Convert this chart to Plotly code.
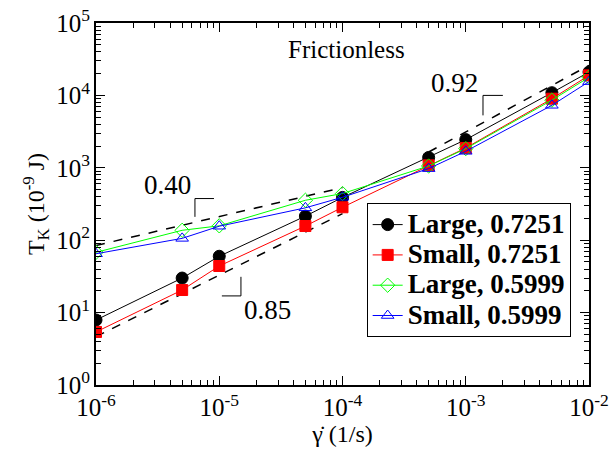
import numpy as np
import plotly.graph_objects as go

# Shear rate (1/s) and kinetic energy T_K (1e-9 J)
shear_rate = [1e-6, 5e-6, 1e-5, 5e-5, 1e-4, 5e-4, 1e-3, 5e-3, 1e-2]
large_7251 = [7.9, 30, 60, 215, 390, 1390, 2450, 10900, 21000]
small_7251 = [5.4, 20.5, 44, 157, 285, 1080, 1880, 9000, 18900]
large_5999 = [68, 137, 158, 356, 441, 1060, 1840, 8600, 17800]
small_5999 = [65, 106, 156, 280, 392, 975, 1690, 7300, 15500]

# Power-law guide lines: slope, x range, anchor point (x, y)
guide_slopes = [0.40, 0.85, 0.92]
guide_xrange = [(1e-6, 1e-4), (1e-6, 1e-4), (5e-4, 1e-2)]
guide_anchor = [(1e-4, 533), (1e-5, 32.9), (1e-2, 26000)]

# Slope brackets drawn next to each guide line
bracket_x = [[6.35e-6, 6.35e-6, 9.06e-6], [1.05e-5, 1.5e-5, 1.5e-5], [1.38e-3, 1.38e-3, 2.0e-3]]
bracket_y = [[210, 376, 376], [17, 17, 31.2], [5300, 1e4, 1e4]]
slope_labels = ["0.40", "0.85", "0.92"]
slope_label_pos = [(0.145, 0.552), (0.348, 0.207), (0.728, 0.834)]

# decade exponents shown on each axis
x_exponents = [-6, -5, -4, -3, -2]
y_exponents = [0, 1, 2, 3, 4, 5]

SERIF = "Liberation Serif"


def decade_aliases(exponents):
    """Map plotly's default power-format labels to plain 10^n labels."""
    alias = {}
    for p in exponents:
        if p == 0:
            default = "1"
        elif p == 1:
            default = "10"
        else:
            default = "10<sup>" + ("\u2212" if p < 0 else "") + str(abs(p)) + "</sup>"
        alias[default] = "10<sup>" + str(p) + "</sup>"
    return alias


fig = go.Figure()

# dashed power-law guides
for s, (xa, xb), (x0, y0) in zip(guide_slopes, guide_xrange, guide_anchor):
    gx = np.array([xa, xb])
    gy = y0 * (gx / x0) ** s
    fig.add_trace(go.Scatter(x=gx, y=gy, mode="lines", showlegend=False, hoverinfo="skip",
                             line=dict(color="black", width=1.5, dash="dash")))

for bx, by in zip(bracket_x, bracket_y):
    fig.add_trace(go.Scatter(x=bx, y=by, mode="lines", showlegend=False, hoverinfo="skip",
                             line=dict(color="black", width=1)))


def legend_name(t):
    return '<span style="font-size:27px"><b>' + t + '</b></span>'


series = [
    ("Large, 0.7251", large_7251, "black", "circle", 12),
    ("Small, 0.7251", small_7251, "red", "square", 11),
    ("Large, 0.5999", large_5999, "#00ff00", "diamond-open", 11),
    ("Small, 0.5999", small_5999, "blue", "triangle-up-open", 11),
]
for name, ys, col, sym, sz in series:
    fig.add_trace(go.Scatter(
        x=shear_rate, y=ys, mode="lines+markers", name=legend_name(name),
        line=dict(color=col, width=1),
        marker=dict(symbol=sym, size=sz, color=col, line=dict(color=col, width=1)),
    ))

annotations = [dict(text="Frictionless", x=0.508, y=0.927, xref="paper", yref="paper",
                    xanchor="center", yanchor="middle", showarrow=False,
                    font=dict(family=SERIF, size=25, color="black"))]
for lab, (px, py) in zip(slope_labels, slope_label_pos):
    annotations.append(dict(text=lab, x=px, y=py, xref="paper", yref="paper", showarrow=False,
                            xanchor="center", yanchor="middle",
                            font=dict(family=SERIF, size=27, color="black")))

axis_common = dict(
    type="log", showgrid=False, zeroline=False, showline=True, linecolor="black", linewidth=2,
    mirror="allticks", ticks="inside", ticklen=9, tickwidth=1, tickcolor="black",
    automargin=False, tickmode="linear", tick0=0, dtick=1, exponentformat="power",
    tickfont=dict(family=SERIF, size=20, color="black"),
    minor=dict(dtick="D1", ticks="inside", ticklen=5, tickwidth=1, tickcolor="black", showgrid=False),
)

fig.update_layout(
    width=610, height=462,
    margin=dict(l=96, r=21, t=23, b=77),
    paper_bgcolor="white", plot_bgcolor="white",
    font=dict(family=SERIF, color="black"),
    xaxis=dict(axis_common, range=[min(x_exponents), max(x_exponents) + 1e-5],
               labelalias=decade_aliases(x_exponents),
               title=dict(text="\u03b3\u0307 (1/s)", font=dict(family=SERIF, size=24), standoff=4)),
    yaxis=dict(axis_common, range=[min(y_exponents), max(y_exponents) + 1e-5],
               labelalias=decade_aliases(y_exponents),
               title=dict(text="T<sub>K</sub> (10<sup>-9</sup> J)", font=dict(family=SERIF, size=24), standoff=5)),
    legend=dict(x=0.549, y=0.5015, xanchor="left", yanchor="top",
                bordercolor="black", borderwidth=1, bgcolor="white",
                font=dict(family=SERIF, size=21, color="black"), tracegroupgap=0),
    annotations=annotations,
    showlegend=True,
)

fig.write_html("out.html")
